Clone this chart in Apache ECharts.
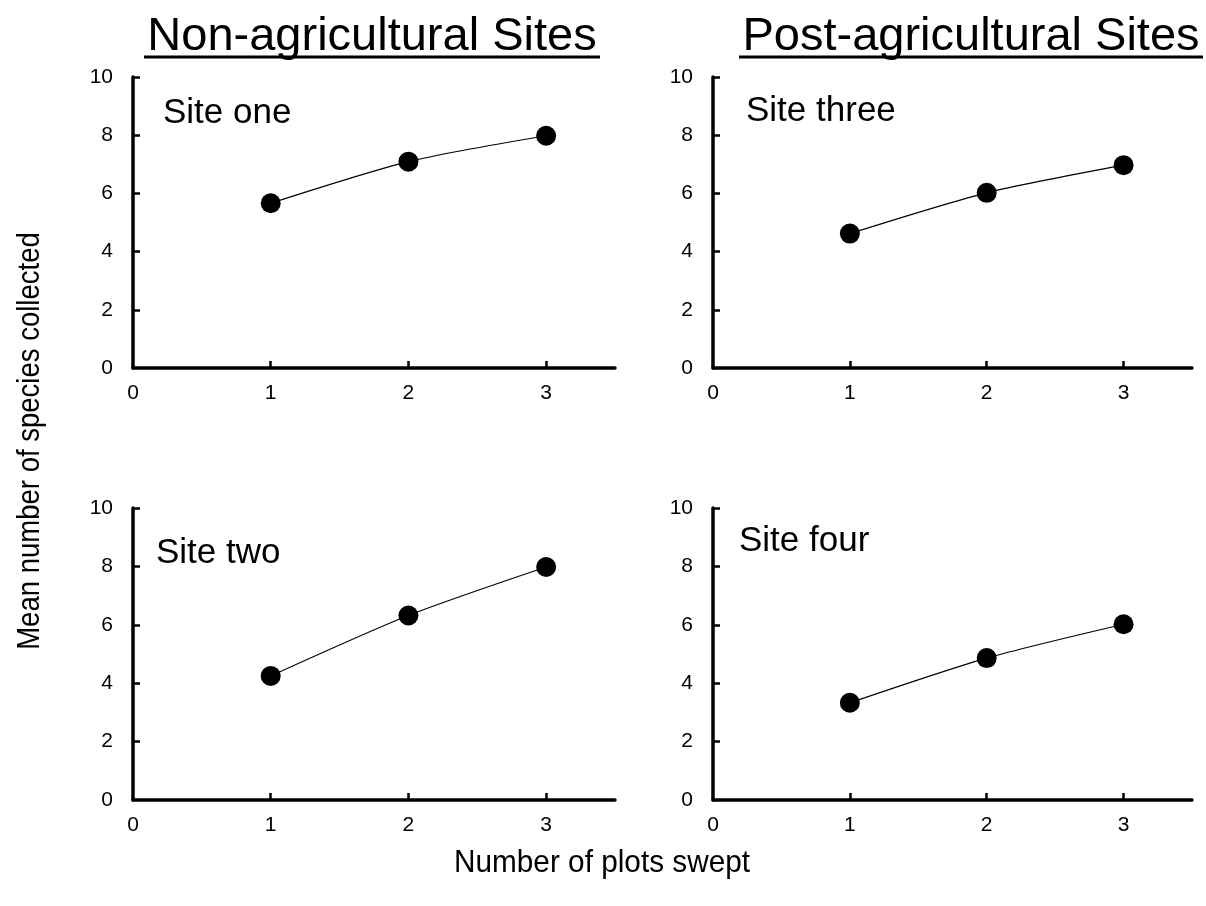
<!DOCTYPE html>
<html>
<head>
<meta charset="utf-8">
<script src="https://cdn.jsdelivr.net/npm/echarts@6/dist/echarts.min.js"></script>
<style>
html,body{margin:0;padding:0;background:#fff;}
#chart{width:1206px;height:906px;}
</style>
</head>
<body>
<div id="chart"></div>
<script>
// ---- data ----
const plots = [1, 2, 3];
const siteOne = [5.66, 7.09, 7.98];
const siteTwo = [4.25, 6.32, 7.98];
const siteThree = [4.62, 6.02, 6.97];
const siteFour = [3.33, 4.86, 6.02];
const xTickLabels = [0, 1, 2, 3];
const yTickLabels = [0, 2, 4, 6, 8, 10];
const panelNames = ['Site one', 'Site two', 'Site three', 'Site four'];
const groupTitles = ['Non-agricultural Sites', 'Post-agricultural Sites'];
const xAxisTitle = 'Number of plots swept';
const yAxisTitle = 'Mean number of species collected';

const FONT = '"Liberation Sans", Arial, sans-serif';
const chart = echarts.init(document.getElementById('chart'), null, {renderer: 'canvas'});

const grids = [
  {left: 133, top: 77, width: 482, height: 291},
  {left: 133, top: 508, width: 482, height: 292},
  {left: 713, top: 77, width: 479, height: 291},
  {left: 713, top: 508, width: 479, height: 292}
];
const seriesData = [siteOne, siteTwo, siteThree, siteFour];

const xAxes = grids.map((g, i) => ({
  type: 'value', gridIndex: i, min: 0, max: 3.5, interval: 1,
  axisLine: {show: true, onZero: false, lineStyle: {color: '#000', width: 3.5}},
  axisTick: {show: true, inside: true, length: 7, customValues: plots, lineStyle: {color: '#000', width: 2.5}},
  axisLabel: {show: true, customValues: xTickLabels, margin: 15, color: '#000', fontSize: 21, fontFamily: FONT},
  splitLine: {show: false}
}));
const yAxes = grids.map((g, i) => ({
  type: 'value', gridIndex: i, min: 0, max: 10, interval: 2,
  axisLine: {show: true, onZero: false, lineStyle: {color: '#000', width: 3.5}},
  axisTick: {show: true, inside: true, length: 7, customValues: yTickLabels.slice(1), lineStyle: {color: '#000', width: 2.5}},
  axisLabel: {show: true, customValues: yTickLabels, margin: 20, color: '#000', fontSize: 21, fontFamily: FONT},
  splitLine: {show: false}
}));
const series = seriesData.map((d, i) => ({
  type: 'line', xAxisIndex: i, yAxisIndex: i,
  data: plots.map((p, k) => [p, d[k]]),
  smooth: 0.25,
  symbol: 'circle', symbolSize: 20,
  itemStyle: {color: '#000'},
  lineStyle: {color: '#000', width: 1.2},
  z: 3
}));

const labelPos = [[163, 113], [156, 553], [746, 111], [739, 541]];
const graphics = [];
panelNames.forEach((n, i) => {
  graphics.push({type: 'text', x: labelPos[i][0], y: labelPos[i][1],
    style: {text: n, font: '35px ' + FONT, fill: '#000', textAlign: 'left', textVerticalAlign: 'middle'}});
});
const titleCx = [372, 971];
const underline = [[144, 600], [739, 1203]];
groupTitles.forEach((t, i) => {
  graphics.push({type: 'text', x: titleCx[i], y: 37,
    style: {text: t, font: '47px ' + FONT, fill: '#000', textAlign: 'center', textVerticalAlign: 'middle'}});
  graphics.push({type: 'line', shape: {x1: underline[i][0], y1: 57, x2: underline[i][1], y2: 57},
    style: {stroke: '#000', lineWidth: 3}});
});
graphics.push({type: 'text', x: 602, y: 863, scaleX: 0.93,
  style: {text: xAxisTitle, font: '32px ' + FONT, fill: '#000', textAlign: 'center', textVerticalAlign: 'middle'}});
graphics.push({type: 'text', x: 30, y: 441, rotation: Math.PI / 2, scaleX: 0.86,
  style: {text: yAxisTitle, font: '32px ' + FONT, fill: '#000', textAlign: 'center', textVerticalAlign: 'middle'}});

chart.setOption({
  animation: false,
  backgroundColor: '#fff',
  grid: grids.map(g => Object.assign({outerBoundsMode: 'none', containLabel: false}, g)),
  xAxis: xAxes,
  yAxis: yAxes,
  series: series,
  graphic: graphics
});
</script>
</body>
</html>
